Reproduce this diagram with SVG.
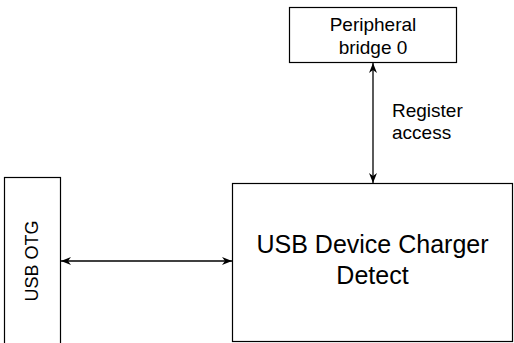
<svg xmlns="http://www.w3.org/2000/svg" width="514" height="343" viewBox="0 0 514 343">
<style>
.box{fill:#fff;stroke:#000;stroke-width:1.2}
.t{font-family:"Liberation Sans",Arial,sans-serif;fill:#000}
.s{font-size:19px}
.b{font-size:25px}
.c{stroke:#000;stroke-width:1.3;fill:none}
</style>
<defs>
<marker id="ah" viewBox="0 0 10 8" refX="10" refY="4" markerWidth="10" markerHeight="8" markerUnits="userSpaceOnUse" orient="auto-start-reverse">
<path d="M0,0 L10,4 L0,8 L3,4 z" fill="#000"/>
</marker>
</defs>
<rect width="514" height="343" fill="#fff"/>
<g id="peripheral">
<rect class="box" x="289.5" y="7.5" width="167" height="55"/>
<text class="t s" x="373" y="30.5" text-anchor="middle">Peripheral</text>
<text class="t s" x="373" y="53.5" text-anchor="middle">bridge 0</text>
</g>
<g id="usbotg">
<rect class="box" x="4.5" y="177.5" width="56" height="170"/>
<text class="t" transform="translate(38,261) rotate(-90)" font-size="18" text-anchor="middle">USB OTG</text>
</g>
<g id="charger">
<rect class="box" x="232.5" y="183.5" width="280" height="158"/>
<text class="t b" x="372.5" y="253" text-anchor="middle">USB Device Charger</text>
<text class="t b" x="372.5" y="284" text-anchor="middle">Detect</text>
</g>
<g id="connectors">
<line class="c" x1="373" y1="63" x2="373" y2="183" marker-start="url(#ah)" marker-end="url(#ah)"/>
<line class="c" x1="61" y1="261" x2="232" y2="261" marker-start="url(#ah)" marker-end="url(#ah)"/>
<text class="t s" x="392" y="117" >Register</text>
<text class="t s" x="392" y="139">access</text>
</g>
</svg>
